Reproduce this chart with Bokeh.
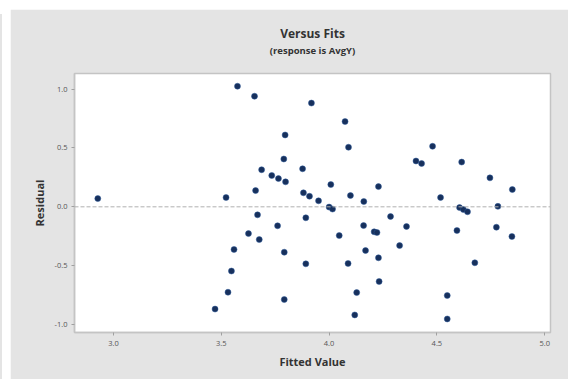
from bokeh.plotting import figure
from bokeh.models import Span, Title, FixedTicker, NumeralTickFormatter, ColumnDataSource, Div, Spacer
from bokeh.layouts import column, row
from bokeh.embed import file_html
from bokeh.resources import INLINE

fitted = [2.927, 3.522, 3.471, 3.531, 3.547, 3.559, 3.575, 3.654, 3.918, 4.074,
          3.796, 4.090, 3.790, 3.687, 3.877, 3.734, 3.765, 3.798, 3.659, 4.008,
          4.229, 3.881, 3.909, 3.951, 4.099, 4.161, 4.000, 4.016, 4.285, 3.668,
          3.761, 3.892, 4.160, 4.209, 4.222, 3.626, 3.676, 4.047, 3.792, 4.169,
          4.229, 3.892, 4.088, 4.232, 4.128, 3.792, 4.119, 4.480, 4.403, 4.429,
          4.615, 4.746, 4.850, 4.517, 4.783, 4.605, 4.623, 4.642, 4.359, 4.593,
          4.776, 4.848, 4.327, 4.676, 4.548, 4.548]
residual = [0.070, 0.079, -0.868, -0.725, -0.545, -0.362, 1.024, 0.939, 0.881, 0.724,
            0.610, 0.506, 0.406, 0.315, 0.323, 0.266, 0.240, 0.212, 0.138, 0.189,
            0.172, 0.119, 0.090, 0.051, 0.096, 0.045, -0.002, -0.019, -0.082, -0.068,
            -0.161, -0.093, -0.159, -0.212, -0.218, -0.227, -0.278, -0.244, -0.385, -0.371,
            -0.433, -0.484, -0.481, -0.634, -0.728, -0.787, -0.918, 0.514, 0.389, 0.368,
            0.380, 0.246, 0.147, 0.079, 0.004, -0.006, -0.023, -0.042, -0.167, -0.201,
            -0.173, -0.252, -0.329, -0.475, -0.753, -0.952]

x_ticks = [3.0, 3.5, 4.0, 4.5, 5.0]
y_ticks = [-1.0, -0.5, 0.0, 0.5, 1.0]

title_text = "Versus Fits"
subtitle_text = "(response is AvgY)"

FONT = "Open Sans"
BG = "#e4e4e4"
FRAME = "#c4c4c4"

p = figure(frame_width=476, frame_height=259, title=None,
           min_border_left=64, min_border_right=20, min_border_top=64, min_border_bottom=47,
           x_range=(2.819, 5.027), y_range=(-1.067, 1.132),
           output_backend="svg", toolbar_location=None,
           background_fill_color="white", border_fill_color=BG)

# blank title used only as vertical spacing between the frame and the subtitle
pad = Title(text=" ", align="center", text_font=FONT, text_font_size="9px",
            standoff=2)
sub = Title(text=subtitle_text, align="center", text_font=FONT,
            text_font_size="9.5px", text_font_style="bold", text_color="#333333",
            standoff=0)
main = Title(text=title_text, align="center", text_font=FONT,
             text_font_size="12px", text_font_style="bold", text_color="#333333",
             standoff=0)
p.add_layout(pad, "above")
p.add_layout(sub, "above")
p.add_layout(main, "above")

p.outline_line_color = FRAME
p.outline_line_width = 1.5
p.grid.visible = False

for ax in (p.xaxis, p.yaxis):
    ax.axis_line_color = FRAME
    ax.axis_line_width = 1.5
    ax.major_tick_line_color = "#a0a0a0"
    ax.major_tick_out = 3
    ax.major_tick_in = 0
    ax.minor_tick_line_color = None
    ax.major_label_text_font = FONT
    ax.major_label_text_font_size = "7.5px"
    ax.major_label_text_color = "#555555"
    ax.axis_label_text_font = FONT
    ax.axis_label_text_font_size = "11px"
    ax.axis_label_text_font_style = "bold"
    ax.axis_label_text_color = "#333333"
    ax.formatter = NumeralTickFormatter(format="0.0")

p.xaxis.ticker = FixedTicker(ticks=x_ticks)
p.yaxis.ticker = FixedTicker(ticks=y_ticks)
p.xaxis.axis_label = "Fitted Value"
p.yaxis.axis_label = "Residual"
p.xaxis.major_label_standoff = 5
p.yaxis.major_label_standoff = 4
p.xaxis.axis_label_standoff = 5
p.yaxis.axis_label_standoff = 5

p.add_layout(Span(location=0, dimension="width", line_color="#b0b0b0",
                  line_dash="4 2", line_width=1))

src = ColumnDataSource(dict(x=fitted, y=residual))
p.scatter("x", "y", source=src, size=6, fill_color="#17305c",
          line_color="#2f5a9a", line_width=0.5)

strip = Div(text="", width=5, height=370, styles={"background-color": BG})
gap = Spacer(width=3, height=370)
top = Spacer(width=568, height=9)
layout = column(top, row(strip, gap, p), styles={"margin-left": "-8px"})

open("out.html", "w").write(file_html(layout, INLINE))
